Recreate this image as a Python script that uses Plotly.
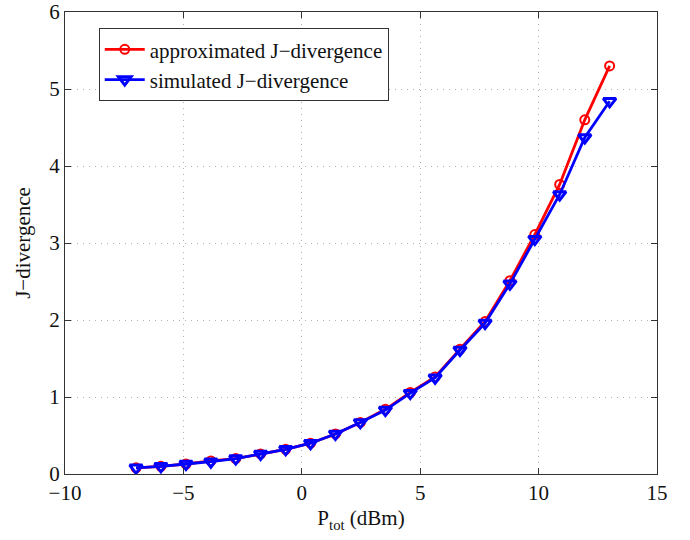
import plotly.graph_objects as go

# Total transmit power (dBm)
p_tot = [-7.0, -5.95, -4.89, -3.84, -2.79, -1.74, -0.68, 0.37, 1.42, 2.47,
         3.53, 4.58, 5.63, 6.68, 7.74, 8.79, 9.84, 10.89, 11.95, 13.0]

# J-divergence values
j_approx = [0.08, 0.10, 0.13, 0.17, 0.20, 0.26, 0.32, 0.40, 0.52, 0.67,
            0.84, 1.06, 1.26, 1.62, 1.98, 2.51, 3.11, 3.76, 4.60, 5.30]
j_sim = [0.08, 0.10, 0.13, 0.16, 0.20, 0.26, 0.32, 0.40, 0.52, 0.67,
         0.83, 1.05, 1.25, 1.61, 1.96, 2.47, 3.05, 3.63, 4.37, 4.84]

x_ticks = [-10, -5, 0, 5, 10, 15]
y_ticks = [0, 1, 2, 3, 4, 5, 6]

FONT = "Liberation Serif, Times New Roman, serif"
FS = 21

fig = go.Figure()
fig.add_trace(go.Scatter(
    x=p_tot, y=j_approx, mode="lines+markers",
    name="approximated J\u2212divergence",
    line=dict(color="#ff0000", width=2.8),
    marker=dict(symbol="circle-open", size=9, color="#ff0000",
                line=dict(width=2, color="#ff0000")),
))
fig.add_trace(go.Scatter(
    x=p_tot, y=j_sim, mode="lines+markers",
    name="simulated J\u2212divergence",
    line=dict(color="#0000ff", width=2.8),
    marker=dict(symbol="triangle-down-open", size=11, color="#0000ff",
                line=dict(width=3, color="#0000ff")),
))

axis_common = dict(
    showline=True, linecolor="#333333", linewidth=1, mirror="ticks",
    ticks="inside", ticklen=6, tickcolor="#333333",
    showgrid=True, gridcolor="#b0b0b0", griddash="1px,5px", gridwidth=1,
    zeroline=False, ticklabeloverflow="allow", automargin=False,
    tickfont=dict(family=FONT, size=FS, color="#111111"),
)

fig.update_xaxes(
    range=[-10, 15], tickvals=x_ticks,
    title=dict(text="P<sub>tot</sub> (dBm)",
               font=dict(family=FONT, size=FS, color="#111111"), standoff=6),
    **axis_common,
)
fig.update_yaxes(
    range=[0, 6], tickvals=y_ticks,
    title=dict(text="J\u2212divergence",
               font=dict(family=FONT, size=FS, color="#111111"), standoff=12),
    **axis_common,
)

fig.update_layout(
    width=690, height=540,
    margin=dict(l=65, r=33, t=12, b=66),
    paper_bgcolor="white", plot_bgcolor="white",
    showlegend=True,
    legend=dict(
        x=0.057, y=0.965, xanchor="left", yanchor="top",
        bgcolor="white", bordercolor="#333333", borderwidth=1,
        font=dict(family=FONT, size=FS, color="#111111"),
        tracegroupgap=0, itemwidth=40,
    ),
)

fig.write_html("out.html")
